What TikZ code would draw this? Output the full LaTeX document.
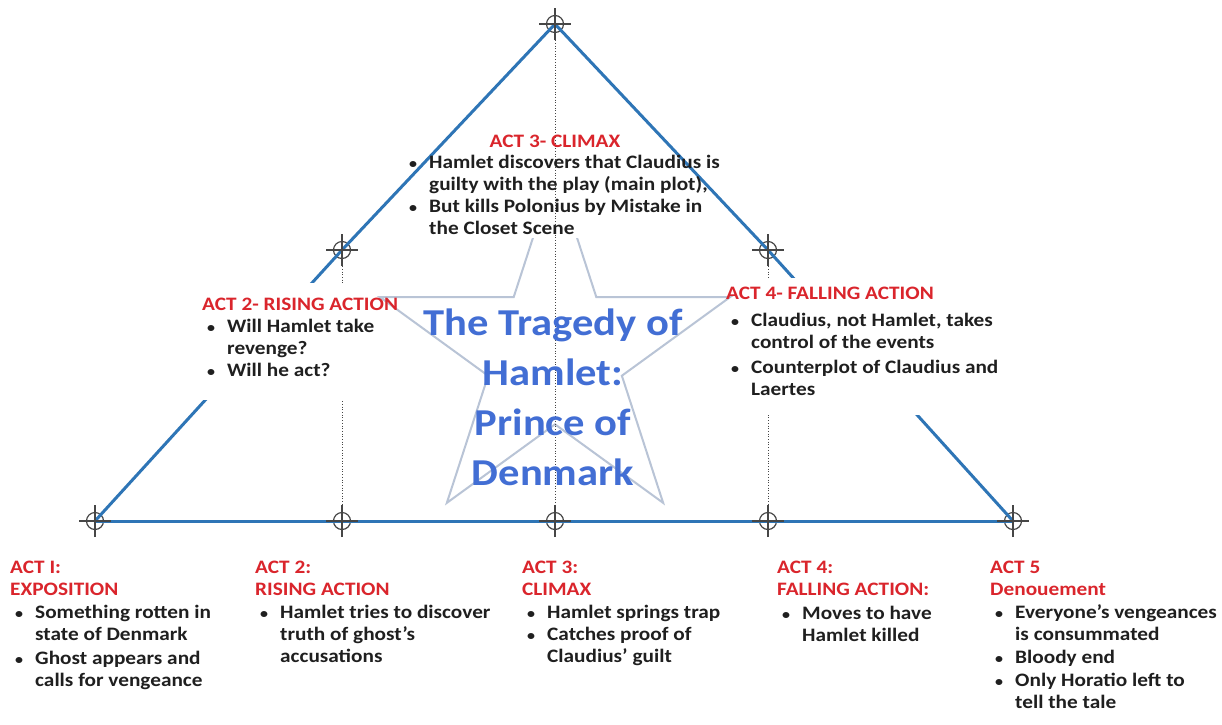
\documentclass[tikz,border=0pt]{standalone}
\usepackage{fontspec}
\setmainfont{Carlito}[FakeStretch=1.12]
\usetikzlibrary{calc}
\definecolor{actred}{RGB}{218,37,44}
\definecolor{lineblue}{RGB}{46,117,182}
\definecolor{titleblue}{RGB}{66,110,212}
\definecolor{stargray}{RGB}{185,196,214}
\definecolor{xhgray}{RGB}{70,70,70}
\newcommand{\bl}{\hspace*{5pt}\makebox[20pt][l]{\raisebox{0.5pt}{\scalebox{0.75}{•}}}}
\newcommand{\ind}{\hspace*{25pt}}
\newcommand{\hd}[1]{\textcolor{actred}{#1}}
\begin{document}
\begin{tikzpicture}[x=1pt,y=-1pt,
  xh/.style={circle,draw=xhgray,line width=1.2pt,minimum size=17pt,inner sep=0pt},
  tick/.style={draw=xhgray,line width=1.1pt},
  plotline/.style={draw=lineblue,line width=3pt,line cap=round},
  guide/.style={draw=xhgray,line width=0.7pt,dotted},
  starline/.style={draw=stargray,line width=2pt,line join=miter},
  txt/.style={anchor=north west,align=left,inner sep=0pt,font={\bfseries\fontsize{19}{22}\selectfont},text=black!88},
  titletext/.style={align=center,inner sep=0pt,text=titleblue,font={\bfseries\fontsize{38}{50}\selectfont}}
]
\useasboundingbox (0,0) rectangle (1222,724);
\fill[white] (0,0) rectangle (1222,724);

% crosshair points
\node[xh] (t)  at (555,24) {};
\node[xh] (l)  at (342,250) {};
\node[xh] (r)  at (768,250) {};
\node[xh] (c1) at (95,521) {};
\node[xh] (c2) at (342,521) {};
\node[xh] (c3) at (555,521) {};
\node[xh] (c4) at (768,521) {};
\node[xh] (c5) at (1013,521) {};

% star
\begin{scope}[shift={(555,354)}]
\draw[starline] (-90:184) \foreach \k in {0,...,3}{ -- (-54+72*\k:70.3) -- (-18+72*\k:184)} -- (234:70.3) -- cycle;
\end{scope}

% mask behind act 3 text
\fill[white] (398,118) rectangle (728,238);

% plot lines
\draw[plotline] (c1.center) -- (l.center) -- (t.center) -- (r.center) -- (c5.center);
\draw[plotline] (c1.center) -- (c5.center);
\draw[guide] (t.center) -- (c3.center);
\draw[guide] (l.center) -- (c2.center);
\draw[guide] (r.center) -- (c4.center);

% masks behind act 2 and act 4 text
\fill[white] (195,283) rectangle (362,400);
\fill[white] (738,278) rectangle (1005,415);

% crosshair ticks
\foreach \n in {t,l,r,c1,c2,c3,c4,c5}{
  \draw[tick] ([xshift=-16pt]\n.center) -- ([xshift=16pt]\n.center);
  \draw[tick] ([yshift=-16pt]\n.center) -- ([yshift=16pt]\n.center);
}

% title
\node[titletext] (title) at (553,397) {The Tragedy of\\Hamlet:\\Prince of\\Denmark};

% upper texts
\node[font={\bfseries\fontsize{19}{22}\selectfont},text=actred,inner sep=0pt] (a3h) at (555,141) {ACT 3- CLIMAX};
\node[txt] (a3b) at (404,155) {\bl Hamlet discovers that Claudius is\\ \ind guilty with the play (main plot),\\ \bl But kills Polonius by Mistake in\\ \ind the Closet Scene};
\node[txt] (a2u) at (202,298) {\hd{ACT 2- RISING ACTION}\\ \bl Will Hamlet take\\ \ind revenge?\\ \bl Will he act?};
\node[txt] (a4u) at (726,287) {\hd{ACT 4- FALLING ACTION}\\[5pt] \bl Claudius, not Hamlet, takes\\ \ind control of the events\\[3pt] \bl Counterplot of Claudius and\\ \ind Laertes};

% lower texts
\node[txt] (a1) at (10,561) {\hd{ACT I:}\\ \hd{EXPOSITION}\\[1pt] \bl Something rotten in\\ \ind state of Denmark\\[2pt] \bl Ghost appears and\\ \ind calls for vengeance};
\node[txt] (a2) at (255,561) {\hd{ACT 2:}\\ \hd{RISING ACTION}\\[1pt] \bl Hamlet tries to discover\\ \ind truth of ghost's\\ \ind accusations};
\node[txt] (a3) at (522,561) {\hd{ACT 3:}\\ \hd{CLIMAX}\\[1pt] \bl Hamlet springs trap\\ \bl Catches proof of\\ \ind Claudius’ guilt};
\node[txt] (a4) at (777,561) {\hd{ACT 4:}\\ \hd{FALLING ACTION:}\\[2pt] \bl Moves to have\\ \ind Hamlet killed};
\node[txt] (a5) at (990,561) {\hd{ACT 5}\\ \hd{Denouement}\\[1pt] \bl Everyone’s vengeances\\ \ind is consummated\\[1pt] \bl Bloody end\\[1pt] \bl Only Horatio left to\\ \ind tell the tale};
\end{tikzpicture}
\end{document}
